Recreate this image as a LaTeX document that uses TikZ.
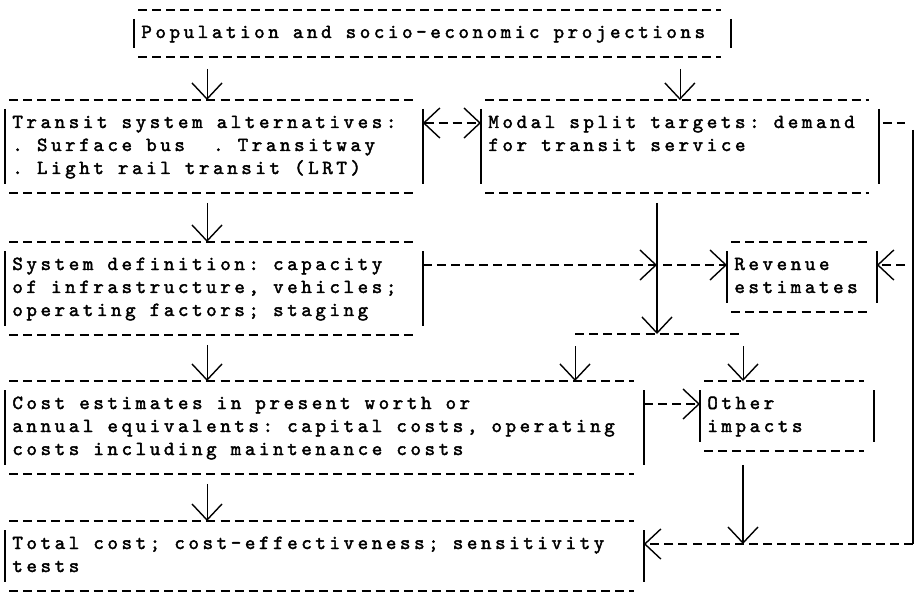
\documentclass[tikz,border=0pt]{standalone}
\usepackage{fontspec}
\newfontfamily\tw{Latin Modern Mono}[LetterSpace=18,FakeBold=2]
\usetikzlibrary{arrows.meta}

\begin{document}
\begin{tikzpicture}[x=0.5pt,y=-0.5pt,
  hy/.style={line width=1pt,dash pattern=on 4.5pt off 2.55pt},
  bar/.style={line width=0.75pt},
  vtip/.style={-{Straight Barb[length=8pt,width=15pt,line width=0.7pt]}},
  vvtip/.style={{Straight Barb[length=8pt,width=15pt,line width=0.7pt]}-{Straight Barb[length=8pt,width=15pt,line width=0.7pt]}},
  tframe/.style={append after command={
    ([xshift=2pt]\tikzlastnode.north west) edge[hy] ([xshift=-5pt]\tikzlastnode.north east)
    ([xshift=2pt]\tikzlastnode.south west) edge[hy] ([xshift=-5pt]\tikzlastnode.south east)
    ([yshift=-4.5pt]\tikzlastnode.north west) edge[bar] ([yshift=4.5pt]\tikzlastnode.south west)
    ([yshift=-4.5pt]\tikzlastnode.north east) edge[bar] ([yshift=4.5pt]\tikzlastnode.south east)}},
  tbox/.style={tframe,anchor=north west,align=left,inner xsep=3.5pt,inner ysep=5.75pt,
    font={\tw\fontsize{10pt}{11.5pt}\selectfont},
    execute at begin node={\frenchspacing\spaceskip=7.05pt\xspaceskip=7.05pt\strut},
    execute at end node=\strut}]
\fill[white] (0,0) rectangle (916,599);
\useasboundingbox (0,0) rectangle (916,599);

% boxes
\node[tbox,text width=291pt] (pop) at (134,10) {Population and socio-economic projections};
\node[tbox,text width=201.5pt] (alt) at (5,100) {Transit system alternatives:\\. Surface bus~~. Transitway\\. Light rail transit (LRT)};
\node[tbox,text width=191.5pt] (modal) at (481,100) {Modal split targets: demand\\for transit service\\\mbox{}};
\node[tbox,text width=201.5pt] (sys) at (5,242) {System definition: capacity\\of infrastructure, vehicles;\\operating factors; staging};
\node[tbox,text width=67.5pt] (rev) at (727,242) {Revenue\\estimates};
\node[tbox,text width=312pt] (cost) at (5,381) {Cost estimates in present worth or\\annual equivalents: capital costs, operating\\costs including maintenance costs};
\node[tbox,text width=79.5pt] (oth) at (700,381) {Other\\impacts};
\node[tbox,text width=312pt] (tot) at (5,521) {Total cost; cost-effectiveness; sensitivity\\tests};

\coordinate (lft) at (207,0);
\coordinate (rgt) at (913,0);
\coordinate (busw) at (575,334);
\coordinate (bus) at (657,334);
\coordinate (buse) at (743,334);

% left column
\draw[vtip] ([yshift=-6pt]pop.south -| lft) -- (alt.north -| lft);
\draw[vtip] ([yshift=-5pt]alt.south -| lft) -- (sys.north -| lft);
\draw[vtip] ([yshift=-5pt]sys.south -| lft) -- (cost.north -| lft);
\draw[vtip] ([yshift=-5pt]cost.south -| lft) -- (tot.north -| lft);

% demand side
\draw[vtip] ([yshift=-6pt]pop.south -| modal.north) -- (modal.north);
\draw[hy,vvtip] ([yshift=-11.5pt]alt.north east) -- ([yshift=-11.5pt]alt.north east -| modal.west);
\draw[hy,vtip] ([yshift=-11.5pt]sys.north east) -- ([yshift=-11.5pt]bus |- sys.north);
\draw[bar,vtip] ([yshift=-5pt]bus |- modal.south) -- (bus);
\draw[hy,vtip] ([xshift=3pt,yshift=-11.5pt]bus |- rev.north) -- ([yshift=-11.5pt]rev.north west);
\draw[hy] (busw) -- (buse);
\draw[vtip] ([yshift=-6pt]busw) -- (busw |- cost.north);
\draw[vtip] ([yshift=-6pt]buse) -- (buse |- oth.north);
\draw[hy,vtip] ([yshift=-11.5pt]cost.north east) -- ([yshift=-11.5pt]cost.north east -| oth.west);
\draw[bar,vtip] ([yshift=-7pt]oth.south -| buse) -- ([yshift=-11.5pt]tot.north -| buse);

% right loop
\draw[hy] ([xshift=2pt,yshift=-11.5pt]modal.north east) -- ([xshift=-4pt,yshift=-11.5pt]rgt |- modal.north);
\draw[bar] ([yshift=-15pt]rgt |- modal.north) -- ([yshift=-11.5pt]rgt |- tot.north);
\draw[hy,vtip] ([xshift=-4pt,yshift=-11.5pt]rgt |- rev.north) -- ([yshift=-11.5pt]rev.north east);
\draw[hy,vtip] ([yshift=-11.5pt]rgt |- tot.north) -- ([yshift=-11.5pt]tot.north east);
\end{tikzpicture}
\end{document}
